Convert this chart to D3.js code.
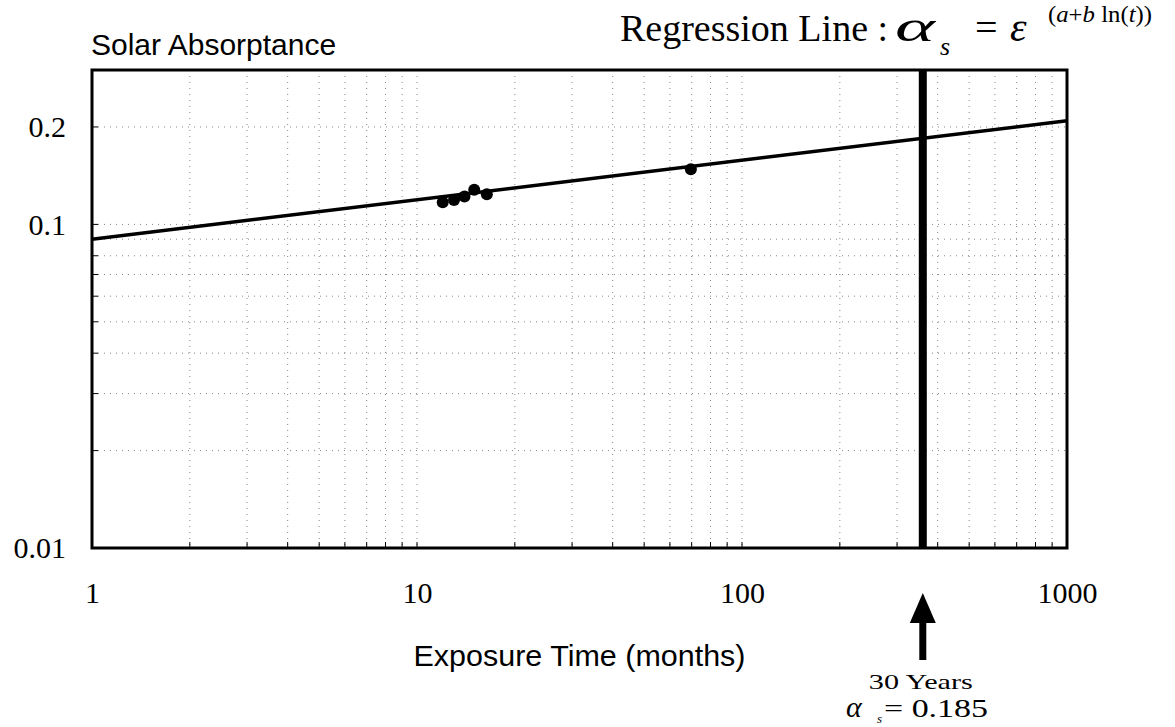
<!DOCTYPE html>
<html>
<head>
<meta charset="utf-8">
<script src="https://cdn.jsdelivr.net/npm/d3@7"></script>
<style>
  body { margin: 0; background: #fff; }
  svg { display: block; }
</style>
</head>
<body>
<div id="chart"></div>
<script>
// measured points (months, solar absorptance)
const months = [12, 13, 14, 15, 16.4, 69.6];
const absorptance = [0.117, 0.119, 0.122, 0.128, 0.124, 0.148];

// regression line end points (straight on log-log)
const lineMonths = [1, 1000];
const lineAlpha = [0.090, 0.209];

// 30 year marker
const markMonths = 360;

const xTicks = [1, 10, 100, 1000];
const yTicks = [0.01, 0.1, 0.2];
const xGrid = [2,3,4,5,6,7,8,9,10,20,30,40,50,60,70,80,90,100,200,300,400,500,600,700,800,900];
const yGrid = [0.02,0.03,0.04,0.05,0.06,0.07,0.08,0.09,0.1,0.2];

const W = 1175, H = 727;
const margin = {top: 70, right: 108, bottom: 179, left: 92};
const serif = "'Liberation Serif', 'Times New Roman', serif";
const sans = "'Liberation Sans', Arial, sans-serif";

const svg = d3.select("#chart").append("svg")
  .attr("width", W).attr("height", H);

const x = d3.scaleLog().domain([1, 1000]).range([margin.left, W - margin.right]);
const y = d3.scaleLog().domain([0.01, 0.3]).range([H - margin.bottom, margin.top]);

// grid
svg.append("g").selectAll("line").data(xGrid).join("line")
  .attr("x1", d => x(d)).attr("x2", d => x(d))
  .attr("y1", y.range()[1]).attr("y2", y.range()[0])
  .attr("stroke", "#888").attr("stroke-width", 1)
  .attr("stroke-dasharray", "1 5");
svg.append("g").selectAll("line").data(yGrid).join("line")
  .attr("y1", d => y(d)).attr("y2", d => y(d))
  .attr("x1", x.range()[0]).attr("x2", x.range()[1])
  .attr("stroke", "#888").attr("stroke-width", 1)
  .attr("stroke-dasharray", "1 5");

// small inward ticks
svg.append("g").selectAll("line").data(xGrid).join("line")
  .attr("x1", d => x(d)).attr("x2", d => x(d))
  .attr("y1", y.range()[0]).attr("y2", y.range()[0] - 6)
  .attr("stroke", "#000").attr("stroke-width", 1);
svg.append("g").selectAll("line").data(yGrid).join("line")
  .attr("y1", d => y(d)).attr("y2", d => y(d))
  .attr("x1", x.range()[0]).attr("x2", x.range()[0] + 6)
  .attr("stroke", "#000").attr("stroke-width", 1);

// axes (labels only)
const xAxis = svg.append("g")
  .attr("transform", "translate(0," + y.range()[0] + ")")
  .call(d3.axisBottom(x).tickValues(xTicks).tickSize(0).tickPadding(34).tickFormat(d3.format("d")));
xAxis.select(".domain").remove();
xAxis.selectAll("text").attr("font-family", serif).attr("font-size", 30).attr("fill", "#000");

const yAxis = svg.append("g")
  .attr("transform", "translate(" + (x.range()[0] - 26) + ",0)")
  .call(d3.axisLeft(y).tickValues(yTicks).tickSize(0).tickPadding(0).tickFormat(d => String(d)));
yAxis.select(".domain").remove();
yAxis.selectAll("text").attr("font-family", serif).attr("font-size", 30).attr("fill", "#000");

// frame
svg.append("rect")
  .attr("x", x.range()[0]).attr("y", y.range()[1])
  .attr("width", x.range()[1] - x.range()[0])
  .attr("height", y.range()[0] - y.range()[1])
  .attr("fill", "none").attr("stroke", "#000").attr("stroke-width", 3);

// 30 year line
svg.append("line")
  .attr("x1", x(markMonths)).attr("x2", x(markMonths))
  .attr("y1", y.range()[1]).attr("y2", y.range()[0])
  .attr("stroke", "#000").attr("stroke-width", 8);

// regression line
const line = d3.line().x(d => x(d[0])).y(d => y(d[1]));
svg.append("path")
  .datum(d3.zip(lineMonths, lineAlpha))
  .attr("d", line)
  .attr("fill", "none").attr("stroke", "#000").attr("stroke-width", 3.5);

// data points
svg.append("g").selectAll("circle").data(d3.zip(months, absorptance)).join("circle")
  .attr("cx", d => x(d[0])).attr("cy", d => y(d[1]))
  .attr("r", 6).attr("fill", "#000");

// labels
svg.append("text").attr("x", 91).attr("y", 55)
  .attr("font-family", sans).attr("font-size", 30).text("Solar Absorptance");

svg.append("text").attr("x", (x.range()[0] + x.range()[1]) / 2).attr("y", 666)
  .attr("text-anchor", "middle").attr("font-family", sans).attr("font-size", 30)
  .attr("textLength", 332).attr("lengthAdjust", "spacingAndGlyphs")
  .text("Exposure Time (months)");

// title
const title = svg.append("g").attr("font-family", serif).attr("fill", "#000");
title.append("text").attr("x", 620).attr("y", 41).attr("font-size", 38).text("Regression Line :");
title.append("text").attr("x", 895).attr("y", 41).attr("font-size", 44).attr("font-style", "italic")
  .attr("textLength", 40).attr("lengthAdjust", "spacingAndGlyphs").text("α");
title.append("text").attr("x", 940).attr("y", 55).attr("font-size", 26).attr("font-style", "italic").text("s");
title.append("text").attr("x", 975).attr("y", 41).attr("font-size", 40).text("=");
title.append("text").attr("x", 1010).attr("y", 41).attr("font-size", 42).attr("font-style", "italic").text("ε");
const sup = title.append("text").attr("x", 1048).attr("y", 22).attr("font-size", 24)
  .attr("textLength", 104).attr("lengthAdjust", "spacingAndGlyphs");
sup.append("tspan").text("(");
sup.append("tspan").attr("font-style", "italic").text("a");
sup.append("tspan").text("+");
sup.append("tspan").attr("font-style", "italic").text("b");
sup.append("tspan").text(" ln(");
sup.append("tspan").attr("font-style", "italic").text("t");
sup.append("tspan").text("))");

// arrow + annotation
const ax = x(markMonths);
svg.append("line")
  .attr("x1", ax).attr("x2", ax).attr("y1", 618).attr("y2", 660)
  .attr("stroke", "#000").attr("stroke-width", 7);
svg.append("path")
  .attr("d", "M" + ax + ",593 L" + (ax - 13) + ",623 L" + (ax + 13) + ",623 Z")
  .attr("fill", "#000");

const note = svg.append("g").attr("font-family", serif).attr("fill", "#000");
note.append("text").attr("x", ax - 2).attr("y", 689).attr("text-anchor", "middle")
  .attr("font-size", 22).attr("textLength", 104).attr("lengthAdjust", "spacingAndGlyphs")
  .text("30 Years");
note.append("text").attr("x", 846).attr("y", 717).attr("font-size", 30).attr("font-style", "italic").text("α");
note.append("text").attr("x", 877).attr("y", 723).attr("font-size", 13).attr("font-style", "italic").text("s");
note.append("text").attr("x", 884).attr("y", 717).attr("font-size", 26)
  .attr("textLength", 104).attr("lengthAdjust", "spacingAndGlyphs").text("= 0.185");
</script>
</body>
</html>
